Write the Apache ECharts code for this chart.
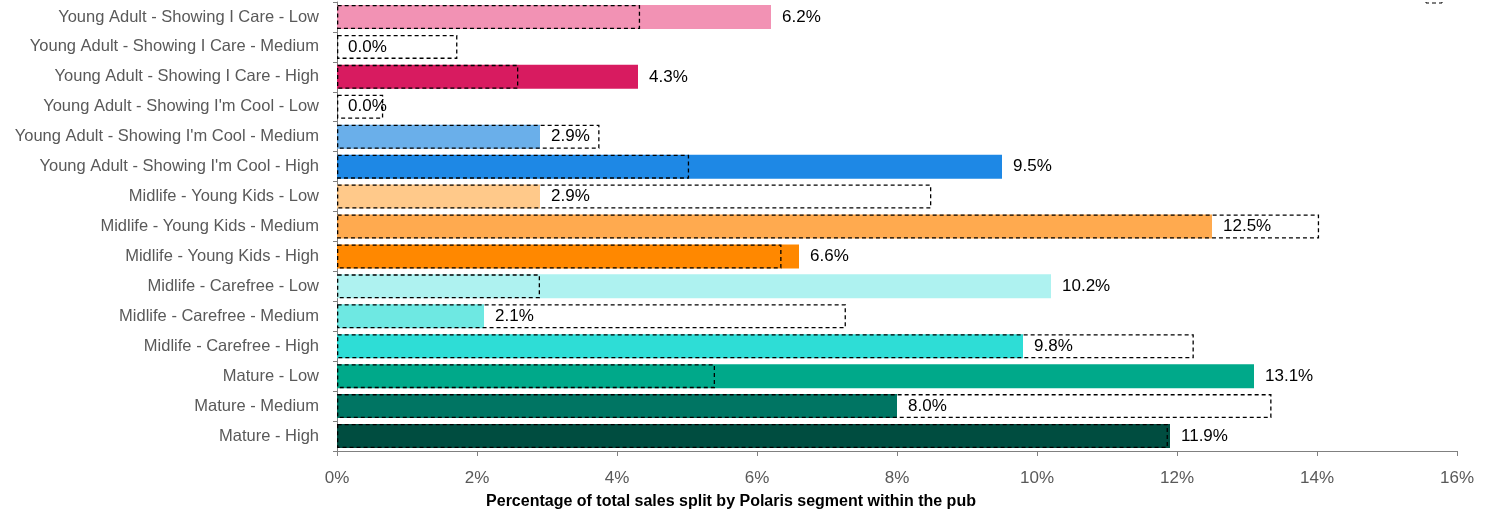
<!DOCTYPE html>
<html><head><meta charset="utf-8">
<script src="https://cdn.jsdelivr.net/npm/echarts@6/dist/echarts.min.js"></script>
<style>html,body{margin:0;padding:0;background:#fff}#c{width:1496px;height:514px}</style>
</head><body><div id="c"></div>
<script>
const categories = [
  "Young Adult - Showing I Care - Low",
  "Young Adult - Showing I Care - Medium",
  "Young Adult - Showing I Care - High",
  "Young Adult - Showing I'm Cool - Low",
  "Young Adult - Showing I'm Cool - Medium",
  "Young Adult - Showing I'm Cool - High",
  "Midlife - Young Kids - Low",
  "Midlife - Young Kids - Medium",
  "Midlife - Young Kids - High",
  "Midlife - Carefree - Low",
  "Midlife - Carefree - Medium",
  "Midlife - Carefree - High",
  "Mature - Low",
  "Mature - Medium",
  "Mature - High"
];
const pubValues = [6.2, 0.0, 4.3, 0.0, 2.9, 9.5, 2.9, 12.5, 6.6, 10.2, 2.1, 9.8, 13.1, 8.0, 11.9];
const benchmarkValues = [4.33, 1.72, 2.59, 0.66, 3.75, 5.03, 8.49, 14.03, 6.35, 2.9, 7.27, 12.24, 5.4, 13.35, 11.87];
const barColors = ["#F292B4", "#E89BB8", "#D81B60", "#8FC3F0", "#6AAFEA", "#1E88E5", "#FFC98A", "#FFAA4F", "#FF8800", "#AEF2F0", "#6EE8E2", "#2EDDD6", "#00A98A", "#007563", "#004D40"];
const xTicks = [0, 2, 4, 6, 8, 10, 12, 14, 16];
const axisTitle = "Percentage of total sales split by Polaris segment within the pub";

const FONT = "Liberation Sans";
const chart = echarts.init(document.getElementById('c'), null, {renderer: 'canvas'});
chart.setOption({
  animation: false,
  backgroundColor: '#fff',
  grid: {left: 337, right: 39, top: 2, bottom: 63, containLabel: false},
  xAxis: {
    type: 'value', min: xTicks[0], max: xTicks[xTicks.length - 1], interval: 2,
    axisLine: {show: true, lineStyle: {color: '#808080', width: 1}},
    axisTick: {show: true, length: 5, lineStyle: {color: '#808080'}},
    splitLine: {show: false},
    axisLabel: {formatter: v => v + '%', color: '#595959', fontFamily: FONT, fontSize: 17, margin: 19}
  },
  yAxis: {
    type: 'category', data: categories, inverse: true,
    axisLine: {show: true, lineStyle: {color: '#808080', width: 1}},
    axisTick: {show: true, length: 4, lineStyle: {color: '#808080'}},
    axisLabel: {color: '#595959', fontFamily: FONT, fontSize: 16.5, margin: 18}
  },
  series: [
    {
      name: 'Pub', type: 'bar', barWidth: 24, barGap: '-100%',
      data: pubValues.map((v, i) => ({value: v, itemStyle: {color: barColors[i]}})),
      label: {show: true, position: 'right', distance: 11, formatter: p => p.value.toFixed(1) + '%',
        color: '#000', fontFamily: FONT, fontSize: 17}
    },
    {
      name: 'Benchmark', type: 'bar', barWidth: 24, barGap: '-100%',
      data: benchmarkValues,
      itemStyle: {color: 'rgba(0,0,0,0)', borderColor: '#000', borderWidth: 1.3, borderType: [4, 3]},
      silent: true, z: 3
    }
  ],
  graphic: [
    {type: 'text', x: 731, y: 502, style: {text: axisTitle, fill: '#000', font: 'bold 16px "Liberation Sans"', textAlign: 'center', textVerticalAlign: 'middle'}},
    {type: 'rect', shape: {x: 1426, y: -10, width: 16, height: 13}, style: {fill: 'none', stroke: '#000', lineWidth: 1, lineDash: [4, 3]}}
  ]
});
</script></body></html>
